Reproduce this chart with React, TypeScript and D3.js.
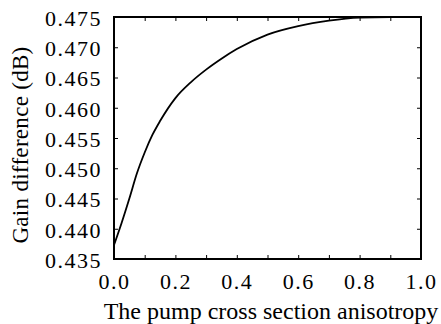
import { useRef, useEffect } from 'react';
import * as d3 from 'd3';

const anisotropy = [0, 0.025, 0.05, 0.075, 0.1, 0.125, 0.15, 0.2, 0.25, 0.3, 0.35, 0.4, 0.5, 0.6, 0.7, 0.8, 0.9, 1.0];
const gainDiff = [0.4373, 0.441, 0.445, 0.4492, 0.4526, 0.4555, 0.4578, 0.4616, 0.4642, 0.4663, 0.4681, 0.4697, 0.4721, 0.4735, 0.4744, 0.4749, 0.475, 0.475];
const xTicks = [0, 0.2, 0.4, 0.6, 0.8, 1.0];
const xMinorTicks = [0.1, 0.3, 0.5, 0.7, 0.9];
const yTicks = [0.435, 0.44, 0.445, 0.45, 0.455, 0.46, 0.465, 0.47, 0.475];

const width = 441;
const height = 324;
const marginTop = 17;
const marginRight = 20;
const marginBottom = 65;
const marginLeft = 114;

const font = "'Liberation Serif', 'Times New Roman', Times, serif";

export default function App() {
    const svgRef = useRef<SVGSVGElement | null>(null);

    useEffect(() => {
        if (!svgRef.current) return;
        const svg = d3.select(svgRef.current);
        svg.selectAll('*').remove();

        const innerWidth = width - marginLeft - marginRight;
        const innerHeight = height - marginTop - marginBottom;

        const x = d3.scaleLinear().domain([0, 1]).range([0, innerWidth]);
        const y = d3.scaleLinear().domain([0.435, 0.475]).range([innerHeight, 0]);

        const chart = svg
            .append('g')
            .attr('transform', `translate(${marginLeft},${marginTop})`);

        // bottom axis, ticks point inward
        const bottom = chart
            .append('g')
            .attr('transform', `translate(0,${innerHeight})`)
            .call(
                d3.axisBottom(x)
                    .tickValues([...xTicks, ...xMinorTicks])
                    .tickSize(-4)
                    .tickPadding(14)
                    .tickFormat(d => (xTicks.includes(+d) ? d3.format('.1f')(+d) : ''))
            );
        bottom.attr('font-family', null).attr('font-size', null);
        bottom.select('.domain').remove();
        bottom.selectAll('line').attr('stroke', '#000');
        bottom
            .selectAll('text')
            .style('font-family', font)
            .style('font-size', '22px')
            .style('letter-spacing', '1.5px')
            .attr('fill', '#000');

        // top ticks
        const top = chart.append('g').call(
            d3.axisTop(x).tickValues([...xTicks, ...xMinorTicks]).tickSize(-4).tickFormat(() => '')
        );
        top.select('.domain').remove();
        top.selectAll('line').attr('stroke', '#000');

        // left axis
        const left = chart.append('g').call(
            d3.axisLeft(y)
                .tickValues(yTicks)
                .tickSize(-4)
                .tickPadding(12)
                .tickFormat(d3.format('.3f'))
        );
        left.attr('font-family', null).attr('font-size', null);
        left.select('.domain').remove();
        left.selectAll('line').attr('stroke', '#000');
        left
            .selectAll('text')
            .style('font-family', font)
            .style('font-size', '22px')
            .style('letter-spacing', '1.5px')
            .attr('dy', '0.38em')
            .attr('fill', '#000');

        // right ticks
        const right = chart
            .append('g')
            .attr('transform', `translate(${innerWidth},0)`)
            .call(d3.axisRight(y).tickValues(yTicks).tickSize(-4).tickFormat(() => ''));
        right.select('.domain').remove();
        right.selectAll('line').attr('stroke', '#000');

        // frame
        chart
            .append('rect')
            .attr('width', innerWidth)
            .attr('height', innerHeight)
            .attr('fill', 'none')
            .attr('stroke', '#000')
            .attr('stroke-width', 2);

        const line = d3
            .line<number>()
            .x((_, i) => x(anisotropy[i]))
            .y(d => y(d))
            .curve(d3.curveMonotoneX);

        chart
            .append('path')
            .datum(gainDiff)
            .attr('d', line)
            .attr('fill', 'none')
            .attr('stroke', '#000')
            .attr('stroke-width', 1.8);

        svg
            .append('text')
            .attr('x', 271)
            .attr('y', 319)
            .attr('text-anchor', 'middle')
            .style('font-family', font)
            .style('font-size', '24px')
            .text('The pump cross section anisotropy');

        svg
            .append('text')
            .attr('transform', `translate(28,145) rotate(-90)`)
            .attr('text-anchor', 'middle')
            .style('font-family', font)
            .style('font-size', '23px')
            .style('letter-spacing', '0.3px')
            .text('Gain difference (dB)');
    }, []);

    return (
        <svg
            ref={svgRef}
            width={width}
            height={height}
            style={{ position: 'absolute', left: 0, top: 0, background: 'white' }}
        ></svg>
    );
}
